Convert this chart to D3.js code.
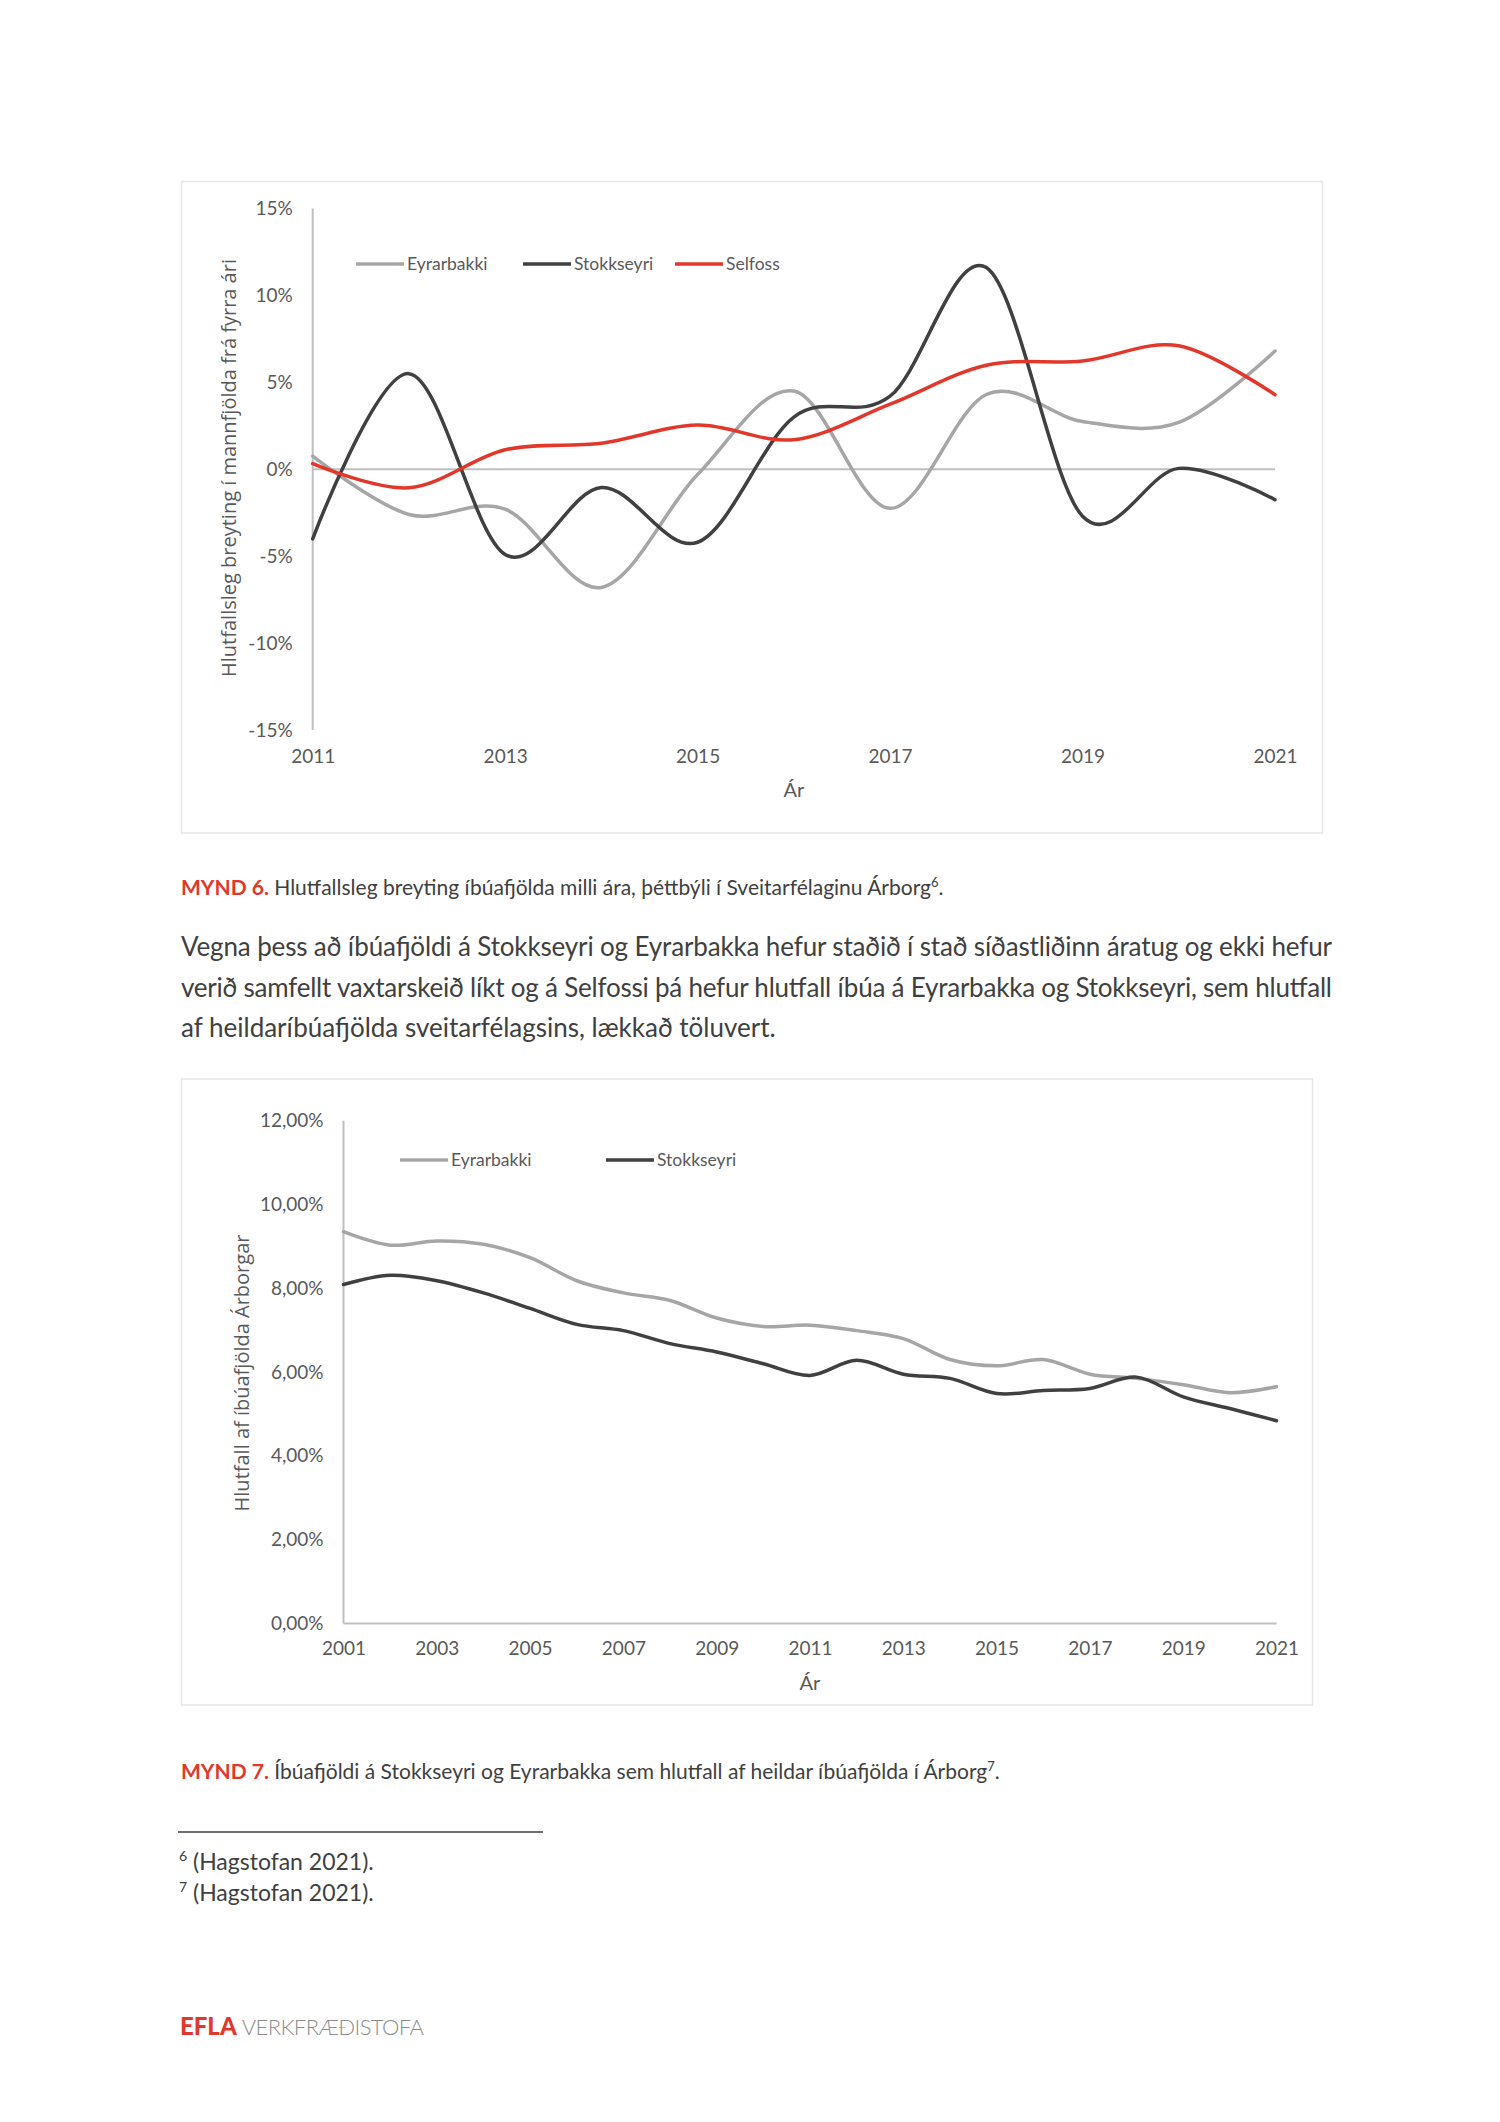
<!DOCTYPE html>
<html>
<head>
<meta charset="utf-8">
<script src="https://cdn.jsdelivr.net/npm/d3@7"></script>
<style>
  body { margin: 0; background: #fff; }
  svg { display: block; }
</style>
</head>
<body>
<svg id="page"></svg>
<script>
// Mynd 6 - breyting milli ára (%)
var years1 = [2011, 2012, 2013, 2014, 2015, 2016, 2017, 2018, 2019, 2020, 2021];
var eyrarbakki1 = [0.75, -2.6, -2.3, -6.8, -0.3, 4.5, -2.25, 4.3, 2.75, 2.7, 6.8];
var stokkseyri1 = [-4.0, 5.5, -4.9, -1.05, -4.2, 3.0, 4.2, 11.6, -2.7, 0.05, -1.75];
var selfoss1 = [0.32, -1.07, 1.12, 1.5, 2.54, 1.7, 3.74, 5.98, 6.23, 7.1, 4.29];
var yTicks1 = [-15, -10, -5, 0, 5, 10, 15];
var xTicks1 = [2011, 2013, 2015, 2017, 2019, 2021];

// Mynd 7 - hlutfall af íbúafjölda Árborgar (%)
var years2 = [2001, 2002, 2003, 2004, 2005, 2006, 2007, 2008, 2009, 2010, 2011,
              2012, 2013, 2014, 2015, 2016, 2017, 2018, 2019, 2020, 2021];
var eyrarbakki2 = [9.35, 9.03, 9.13, 9.05, 8.73, 8.18, 7.89, 7.71, 7.29, 7.09, 7.12,
                   6.99, 6.80, 6.30, 6.15, 6.30, 5.95, 5.85, 5.70, 5.51, 5.65];
var stokkseyri2 = [8.09, 8.31, 8.18, 7.89, 7.52, 7.14, 6.99, 6.68, 6.48, 6.20, 5.92,
                   6.28, 5.95, 5.85, 5.49, 5.56, 5.61, 5.88, 5.41, 5.13, 4.84];
var yTicks2 = [0, 2, 4, 6, 8, 10, 12];
var xTicks2 = [2001, 2003, 2005, 2007, 2009, 2011, 2013, 2015, 2017, 2019, 2021];

var LIGHT = '#a6a6a6', DARK = '#404040', RED = '#e2382b', AXIS = '#bfbfbf', TXT = '#595959';

var svg = d3.select('#page').attr('width', 1500).attr('height', 2122);
svg.append('rect').attr('width', 1500).attr('height', 2122).attr('fill', '#fff');

var smooth = d3.curveCatmullRom.alpha(0);

function drawChart(o) {
  var g = svg.append('g');
  // ramminn
  g.append('rect')
    .attr('x', o.box[0]).attr('y', o.box[1])
    .attr('width', o.box[2]).attr('height', o.box[3])
    .attr('fill', 'none').attr('stroke', '#e6e6e6').attr('stroke-width', 1.5);

  var x = d3.scaleLinear().domain(o.xDomain).range(o.xRange);
  var y = d3.scaleLinear().domain(o.yDomain).range(o.yRange);

  // y ás
  var yAxis = d3.axisLeft(y).tickValues(o.yTicks).tickSize(0).tickPadding(20).tickFormat(o.yFormat);
  g.append('g').attr('transform', 'translate(' + o.xRange[0] + ',0)').call(yAxis)
    .call(function(s) { s.select('.domain').remove(); })
    .selectAll('text').attr('fill', TXT).style('font', '19px Lato');

  // x ás (aðeins textar)
  var xAxis = d3.axisBottom(x).tickValues(o.xTicks).tickSize(0).tickPadding(0).tickFormat(d3.format('d'));
  g.append('g').attr('transform', 'translate(0,' + o.xLabelY + ')').call(xAxis)
    .call(function(s) { s.select('.domain').remove(); })
    .selectAll('text').attr('dy', 0).attr('fill', TXT).style('font', '19px Lato');

  g.append('line')
    .attr('x1', o.xRange[0]).attr('x2', o.xRange[0])
    .attr('y1', y(o.yDomain[0])).attr('y2', y(o.yDomain[1]))
    .attr('stroke', AXIS).attr('stroke-width', 2);
  g.append('line')
    .attr('x1', x(o.xDomain[0])).attr('x2', x(o.xDomain[1]))
    .attr('y1', y(0)).attr('y2', y(0))
    .attr('stroke', AXIS).attr('stroke-width', 2);

  // línur
  o.series.forEach(function(s) {
    var line = d3.line()
      .x(function(d, i) { return x(o.years[i]); })
      .y(function(d) { return y(d); })
      .curve(smooth);
    g.append('path').datum(s.values)
      .attr('d', line)
      .attr('fill', 'none').attr('stroke', s.color)
      .attr('stroke-width', 3.5).attr('stroke-linecap', 'round');
  });

  // skýringar
  o.series.forEach(function(s, i) {
    var lx = o.legendX[i];
    g.append('line')
      .attr('x1', lx).attr('x2', lx + 48)
      .attr('y1', o.legendY).attr('y2', o.legendY)
      .attr('stroke', s.color).attr('stroke-width', 3.5);
    g.append('text')
      .attr('x', lx + 51).attr('y', o.legendY + 6)
      .attr('fill', TXT).style('font', '17.5px Lato')
      .text(s.name);
  });

  // ásaheiti
  g.append('text')
    .attr('transform', 'translate(' + o.yTitlePos[0] + ',' + o.yTitlePos[1] + ') rotate(-90)')
    .attr('text-anchor', 'middle').attr('dy', '0.35em')
    .attr('fill', TXT).style('font', '20px "Open Sans"')
    .text(o.yTitle);
  g.append('text')
    .attr('x', (o.xRange[0] + o.xRange[1]) / 2).attr('y', o.xTitleY)
    .attr('text-anchor', 'middle').attr('dy', '0.35em')
    .attr('fill', TXT).style('font', '20px Lato')
    .text('Ár');
}

drawChart({
  box: [181.5, 181.5, 1141, 651.5],
  years: years1,
  xDomain: [2011, 2021], xRange: [312.7, 1275],
  yDomain: [-15, 15], yRange: [730, 208.5],
  yTicks: yTicks1, xTicks: xTicks1,
  yFormat: function(d) { return d + '%'; },
  xLabelY: 763, xTitleY: 790,
  yTitle: 'Hlutfallsleg breyting í mannfjölda frá fyrra ári',
  yTitlePos: [229, 468],
  legendY: 264, legendX: [356, 523, 675],
  series: [
    {name: 'Eyrarbakki', values: eyrarbakki1, color: LIGHT},
    {name: 'Stokkseyri', values: stokkseyri1, color: DARK},
    {name: 'Selfoss', values: selfoss1, color: RED}
  ]
});

drawChart({
  box: [181.5, 1079, 1131, 626],
  years: years2,
  xDomain: [2001, 2021], xRange: [343.5, 1276.5],
  yDomain: [0, 12], yRange: [1623.5, 1120.7],
  yTicks: yTicks2, xTicks: xTicks2,
  yFormat: function(d) { return d3.format('.2f')(d).replace('.', ',') + '%'; },
  xLabelY: 1655, xTitleY: 1683,
  yTitle: 'Hlutfall af íbúafjölda Árborgar',
  yTitlePos: [242, 1373],
  legendY: 1160, legendX: [400, 606],
  series: [
    {name: 'Eyrarbakki', values: eyrarbakki2, color: LIGHT},
    {name: 'Stokkseyri', values: stokkseyri2, color: DARK}
  ]
});

// myndatextar
function caption(yPos, label, body, sup) {
  var t = svg.append('text').attr('x', 181).attr('y', yPos)
    .attr('fill', DARK).style('font', '21px Lato');
  t.append('tspan').attr('fill', RED).style('font-weight', 'bold').text(label);
  t.append('tspan').text(' ' + body);
  t.append('tspan').attr('dy', -8).style('font-size', '13px').text(sup);
  t.append('tspan').attr('dy', 8).text('.');
}
caption(895, 'MYND 6.', 'Hlutfallsleg breyting íbúafjölda milli ára, þéttbýli í Sveitarfélaginu Árborg', '6');
caption(1779, 'MYND 7.', 'Íbúafjöldi á Stokkseyri og Eyrarbakka sem hlutfall af heildar íbúafjölda í Árborg', '7');

// meginmál
var paragraph = [
  {text: 'Vegna þess að íbúafjöldi á Stokkseyri og Eyrarbakka hefur staðið í stað síðastliðinn áratug og ekki hefur', justify: true},
  {text: 'verið samfellt vaxtarskeið líkt og á Selfossi þá hefur hlutfall íbúa á Eyrarbakka og Stokkseyri, sem hlutfall', justify: true},
  {text: 'af heildaríbúafjölda sveitarfélagsins, lækkað töluvert.', justify: false}
];
paragraph.forEach(function(p, i) {
  var t = svg.append('text').attr('x', 181).attr('y', 956 + i * 40.5)
    .attr('fill', DARK).style('font', '26px Lato').text(p.text);
  if (p.justify) t.attr('textLength', 1151).attr('lengthAdjust', 'spacing');
});

// neðanmálsgreinar
svg.append('line').attr('x1', 178).attr('x2', 543).attr('y1', 1832).attr('y2', 1832)
  .attr('stroke', DARK).attr('stroke-width', 1.5);
['6', '7'].forEach(function(n, i) {
  var t = svg.append('text').attr('x', 179).attr('y', 1870 + i * 31)
    .attr('fill', DARK).style('font', '23px Lato');
  t.append('tspan').attr('dy', -9).style('font-size', '14px').text(n);
  t.append('tspan').attr('dy', 9).text(' (Hagstofan 2021).');
});

// merki
var logo = svg.append('text').attr('x', 180).attr('y', 2035).style('font', '24px Lato');
logo.append('tspan').attr('fill', RED).style('font-weight', 900).style('font-size', '24px').text('EFLA');
logo.append('tspan').attr('dx', 5).attr('fill', '#8c8c8c').style('font-weight', 300)
  .style('font-size', '22px').style('letter-spacing', '-0.6px').text('VERKFRÆÐISTOFA');
</script>
</body>
</html>
